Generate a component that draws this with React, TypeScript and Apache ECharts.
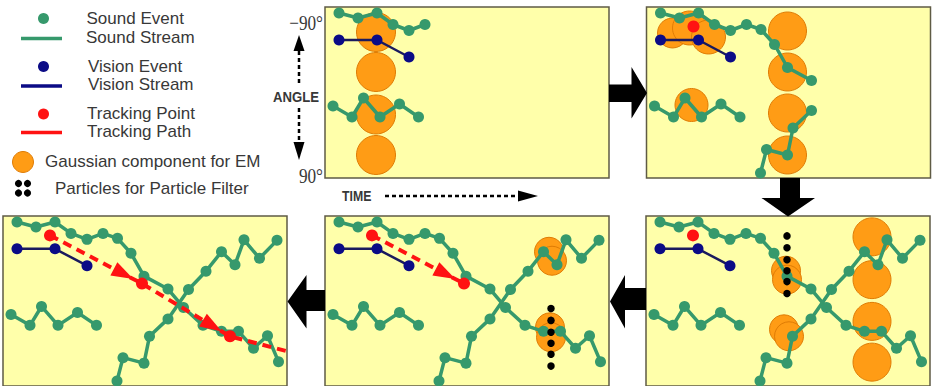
import React, { useEffect, useRef } from "react";
import * as echarts from "echarts";

// Each panel shares one local frame: time 0..284 (left -> right), angle 0..171 (-90° at top, 90° at bottom)
const TIME_MAX = 284;
const ANGLE_MAX = 171;

const soundStreamA = [
  [14, 6], [33, 11], [52, 6], [68, 17.5], [84, 23.5], [100, 17.5], [114.5, 22.5], [128, 37.5],
  [141, 60.5], [165, 73.5], [180.5, 92], [200, 110], [218.5, 116], [235.5, 116], [250.5, 133],
  [264.5, 120.5], [275.5, 146.5],
];
const soundStreamB = [[8, 99], [27, 110], [38.5, 91], [55, 110], [74.5, 97], [93.5, 110]];
const soundStreamC = [
  [114, 166], [120, 142.5], [141, 148], [146.5, 121], [165, 103.5], [185.5, 74], [203, 55.5],
  [218.5, 36], [232, 49], [241, 24], [256.5, 42.5], [274, 24.5],
];
const visionStream = [[14, 33], [52, 33], [84, 50]];
const trackingPath = [[47, 19.5], [139, 68], [227, 121], [284, 136]];

// [time, angle, radius]
const gaussStep1 = [[51, 25, 19.5], [51, 65, 19.5], [51, 107.5, 19.5], [51, 148, 19.5]];
const gaussStep2 = [
  [26, 26, 15], [43, 21, 17], [62, 30, 17], [45, 98, 16.5],
  [141, 24, 19], [141, 65, 19], [141, 106, 19], [141, 148, 19],
];
const gaussStep3 = [
  [140, 55, 14.5], [141, 64, 14.5], [138, 114, 14.5], [143, 121, 14.5],
  [226, 21, 19], [226, 64, 19], [226, 106, 19], [226, 147, 19],
];
const gaussStep4 = [[224, 36, 14.5], [227, 45, 14.5], [225, 112, 14.5], [226, 122, 14.5]];
const particlesStep3 = [[141, 20], [141, 32], [141, 44], [141, 55], [141, 66], [141, 78]];
const particlesStep4 = [[226, 93], [226, 105], [226, 117], [226, 128], [226, 139], [226, 151]];

const legendLabels = [
  "Sound Event", "Sound Stream", "Vision Event", "Vision Stream",
  "Tracking Point", "Tracking Path", "Gaussian component for EM", "Particles for Particle Filter",
];
const angleLabels = ["\u221290\u00b0", "90\u00b0"];
const axisTitles = ["ANGLE", "TIME"];

const GREEN = "#36996c";
const NAVY = "#0b0b86";
const NAVY_LINE = "#1a1a5e";
const RED = "#ff1212";
const ORANGE = "#ff9c15";
const ORANGE_EDGE = "#df7c05";
const YELLOW = "#ffffaa";
const BORDER = "#5f5b45";
const TEXT = "#383838";

const steps = [
  { left: 325, top: 7, aCount: 6, cCount: 0, gauss: gaussStep1, particles: [] as number[][], redCount: 0, pathCount: 0 },
  { left: 646.5, top: 7, aCount: 10, cCount: 5, gauss: gaussStep2, particles: [] as number[][], redCount: 1, pathCount: 0 },
  { left: 646, top: 216, aCount: 17, cCount: 12, gauss: gaussStep3, particles: particlesStep3, redCount: 1, pathCount: 0 },
  { left: 325, top: 216, aCount: 17, cCount: 12, gauss: gaussStep4, particles: particlesStep4, redCount: 2, pathCount: 2 },
  { left: 3, top: 216, aCount: 17, cCount: 12, gauss: [] as number[][], particles: [] as number[][], redCount: 3, pathCount: 4 },
];

function stepSeries(s: any, i: number) {
  const ax = { xAxisIndex: i, yAxisIndex: i, silent: true };
  const out: any[] = [];
  if (s.gauss.length) {
    out.push({
      ...ax, type: "scatter", name: legendLabels[6], data: s.gauss,
      symbolSize: (v: number[]) => v[2] * 2,
      itemStyle: { color: ORANGE, borderColor: ORANGE_EDGE, borderWidth: 1, opacity: 1 }, z: 1,
    });
  }
  const streams = [soundStreamA.slice(0, s.aCount), soundStreamB, soundStreamC.slice(0, s.cCount)].filter((d) => d.length);
  streams.forEach((d) =>
    out.push({
      ...ax, type: "line", name: legendLabels[1], data: d, symbol: "circle", symbolSize: 11,
      lineStyle: { color: GREEN, width: 3.5 }, itemStyle: { color: GREEN, borderWidth: 0, opacity: 1 }, z: 2,
    })
  );
  out.push({
    ...ax, type: "line", name: legendLabels[3], data: visionStream, symbol: "circle", symbolSize: 11,
    lineStyle: { color: NAVY_LINE, width: 2.5 }, itemStyle: { color: NAVY, borderWidth: 0, opacity: 1 }, z: 3,
  });
  if (s.pathCount > 1) {
    out.push({
      ...ax, type: "line", name: legendLabels[5], data: trackingPath.slice(0, s.pathCount),
      symbol: "none", lineStyle: { color: RED, width: 4, type: [9, 6] }, z: 4,
    });
  }
  if (s.redCount > 1) {
    const heads: any[] = [];
    for (let k = 0; k < s.redCount - 1; k++) {
      const p = trackingPath[k];
      const q = trackingPath[k + 1];
      const t = 0.8;
      const deg = (Math.atan2(-(q[1] - p[1]), q[0] - p[0]) * 180) / Math.PI;
      heads.push({ value: [p[0] + t * (q[0] - p[0]), p[1] + t * (q[1] - p[1])], symbolRotate: deg - 90 });
    }
    out.push({
      ...ax, type: "scatter", name: "direction", data: heads, symbol: "triangle", symbolSize: [15, 22],
      itemStyle: { color: RED, opacity: 1 }, z: 5,
    });
  }
  if (s.redCount) {
    out.push({
      ...ax, type: "scatter", name: legendLabels[4], data: trackingPath.slice(0, s.redCount),
      symbolSize: 12, itemStyle: { color: RED, opacity: 1 }, z: 5,
    });
  }
  if (s.particles.length) {
    out.push({
      ...ax, type: "scatter", name: legendLabels[7], data: s.particles, symbolSize: 7.5,
      itemStyle: { color: "#000", opacity: 1 }, z: 6,
    });
  }
  return out;
}

const txt = (text: string, x: number, y: number, font: string, align = "left", extra: any = {}) => ({
  type: "text", x, y, silent: true, ...extra,
  style: { text, font, fill: TEXT, textAlign: align, textVerticalAlign: "middle", align, verticalAlign: "middle" },
});
const poly = (points: number[][], fill = "#000") => ({ type: "polygon", silent: true, shape: { points }, style: { fill } });
const dash = (x1: number, y1: number, x2: number, y2: number) => ({
  type: "line", silent: true, shape: { x1, y1, x2, y2 }, style: { stroke: "#000", lineWidth: 2.5, lineDash: [4, 3] },
});

function buildGraphics() {
  const F = '17px "Liberation Sans", Arial, sans-serif';
  const g: any[] = [];
  // legend
  g.push({ type: "circle", silent: true, shape: { cx: 43.5, cy: 18.5, r: 5.5 }, style: { fill: GREEN } });
  g.push({ type: "line", silent: true, shape: { x1: 21, y1: 38.5, x2: 62, y2: 38.5 }, style: { stroke: GREEN, lineWidth: 3.5 } });
  g.push(txt(legendLabels[0], 86.5, 18.5, F));
  g.push(txt(legendLabels[1], 86, 37, F));
  g.push({ type: "circle", silent: true, shape: { cx: 43.5, cy: 66.5, r: 5.5 }, style: { fill: NAVY } });
  g.push({ type: "line", silent: true, shape: { x1: 21, y1: 86, x2: 62, y2: 86 }, style: { stroke: NAVY, lineWidth: 3.5 } });
  g.push(txt(legendLabels[2], 88, 66, F));
  g.push(txt(legendLabels[3], 88, 84.5, F));
  g.push({ type: "circle", silent: true, shape: { cx: 43.5, cy: 114, r: 5.5 }, style: { fill: RED } });
  g.push({ type: "line", silent: true, shape: { x1: 21, y1: 132.5, x2: 62, y2: 132.5 }, style: { stroke: RED, lineWidth: 3.5 } });
  g.push(txt(legendLabels[4], 87, 113.5, F));
  g.push(txt(legendLabels[5], 87, 131.5, F));
  g.push({ type: "circle", silent: true, shape: { cx: 23, cy: 162, r: 10.5 }, style: { fill: ORANGE, stroke: ORANGE_EDGE, lineWidth: 1 } });
  g.push(txt(legendLabels[6], 45, 161.5, F));
  [[18.5, 183.5], [27.5, 183.5], [18.5, 193], [27.5, 193]].forEach(([cx, cy]) =>
    g.push({ type: "circle", silent: true, shape: { cx, cy, r: 3.6 }, style: { fill: "#000" } })
  );
  g.push(txt(legendLabels[7], 55, 188.5, F));

  // angle axis annotation
  const SERIF = '21px "Liberation Serif", "Times New Roman", serif';
  g.push(txt(angleLabels[0], 323, 23, SERIF, "right", { scaleX: 0.82 }));
  g.push(txt(angleLabels[1], 323, 176, SERIF, "right", { scaleX: 0.82 }));
  g.push(txt(axisTitles[0], 296, 97, 'bold 14px "Liberation Sans", Arial, sans-serif', "center", { scaleX: 0.94 }));
  g.push(poly([[299, 35], [293.5, 51], [304.5, 51]]));
  g.push(dash(299, 51, 299, 84));
  g.push(dash(299, 108, 299, 142));
  g.push(poly([[293.5, 142], [304.5, 142], [299, 160]]));
  // time axis annotation
  g.push(txt(axisTitles[1], 342, 196, 'bold 15px "Liberation Sans", Arial, sans-serif', "left", { scaleX: 0.82 }));
  g.push(dash(385, 196, 520, 196));
  g.push(poly([[518, 190.5], [518, 201.5], [538, 196]]));

  // step arrows
  g.push(poly([[609, 84.5], [631.5, 84.5], [631.5, 67], [647, 93], [631.5, 118.5], [631.5, 102], [609, 102]]));
  g.push(poly([[780, 178], [800, 178], [800, 198], [815, 198], [788, 216.5], [761.5, 198], [780, 198]]));
  g.push(poly([[646, 288], [625, 288], [625, 275], [610, 301.5], [625, 328.5], [625, 310], [646, 310]]));
  g.push(poly([[325, 290], [306.5, 290], [306.5, 275], [287.5, 301.5], [306.5, 328.5], [306.5, 311], [325, 311]]));
  return g;
}

function buildOption() {
  return {
    animation: false,
    backgroundColor: "#ffffff",
    grid: steps.map((s) => ({
      left: s.left, top: s.top, width: TIME_MAX, height: ANGLE_MAX, show: true,
      backgroundColor: YELLOW, borderColor: BORDER, borderWidth: 1.5,
    })),
    xAxis: steps.map((_, i) => ({ type: "value", gridIndex: i, min: 0, max: TIME_MAX, show: false })),
    yAxis: steps.map((_, i) => ({ type: "value", gridIndex: i, min: 0, max: ANGLE_MAX, inverse: true, show: false })),
    series: steps.flatMap((s, i) => stepSeries(s, i)),
    graphic: buildGraphics(),
  };
}

export default function App() {
  const ref = useRef<HTMLDivElement>(null);
  useEffect(() => {
    if (!ref.current) return;
    const chart = echarts.init(ref.current, null, { renderer: "svg" });
    chart.setOption(buildOption() as any);
    return () => chart.dispose();
  }, []);
  return (
    <div
      ref={ref}
      style={{ position: "fixed", left: 0, top: 0, width: 932, height: 386, background: "#fff" }}
    />
  );
}
